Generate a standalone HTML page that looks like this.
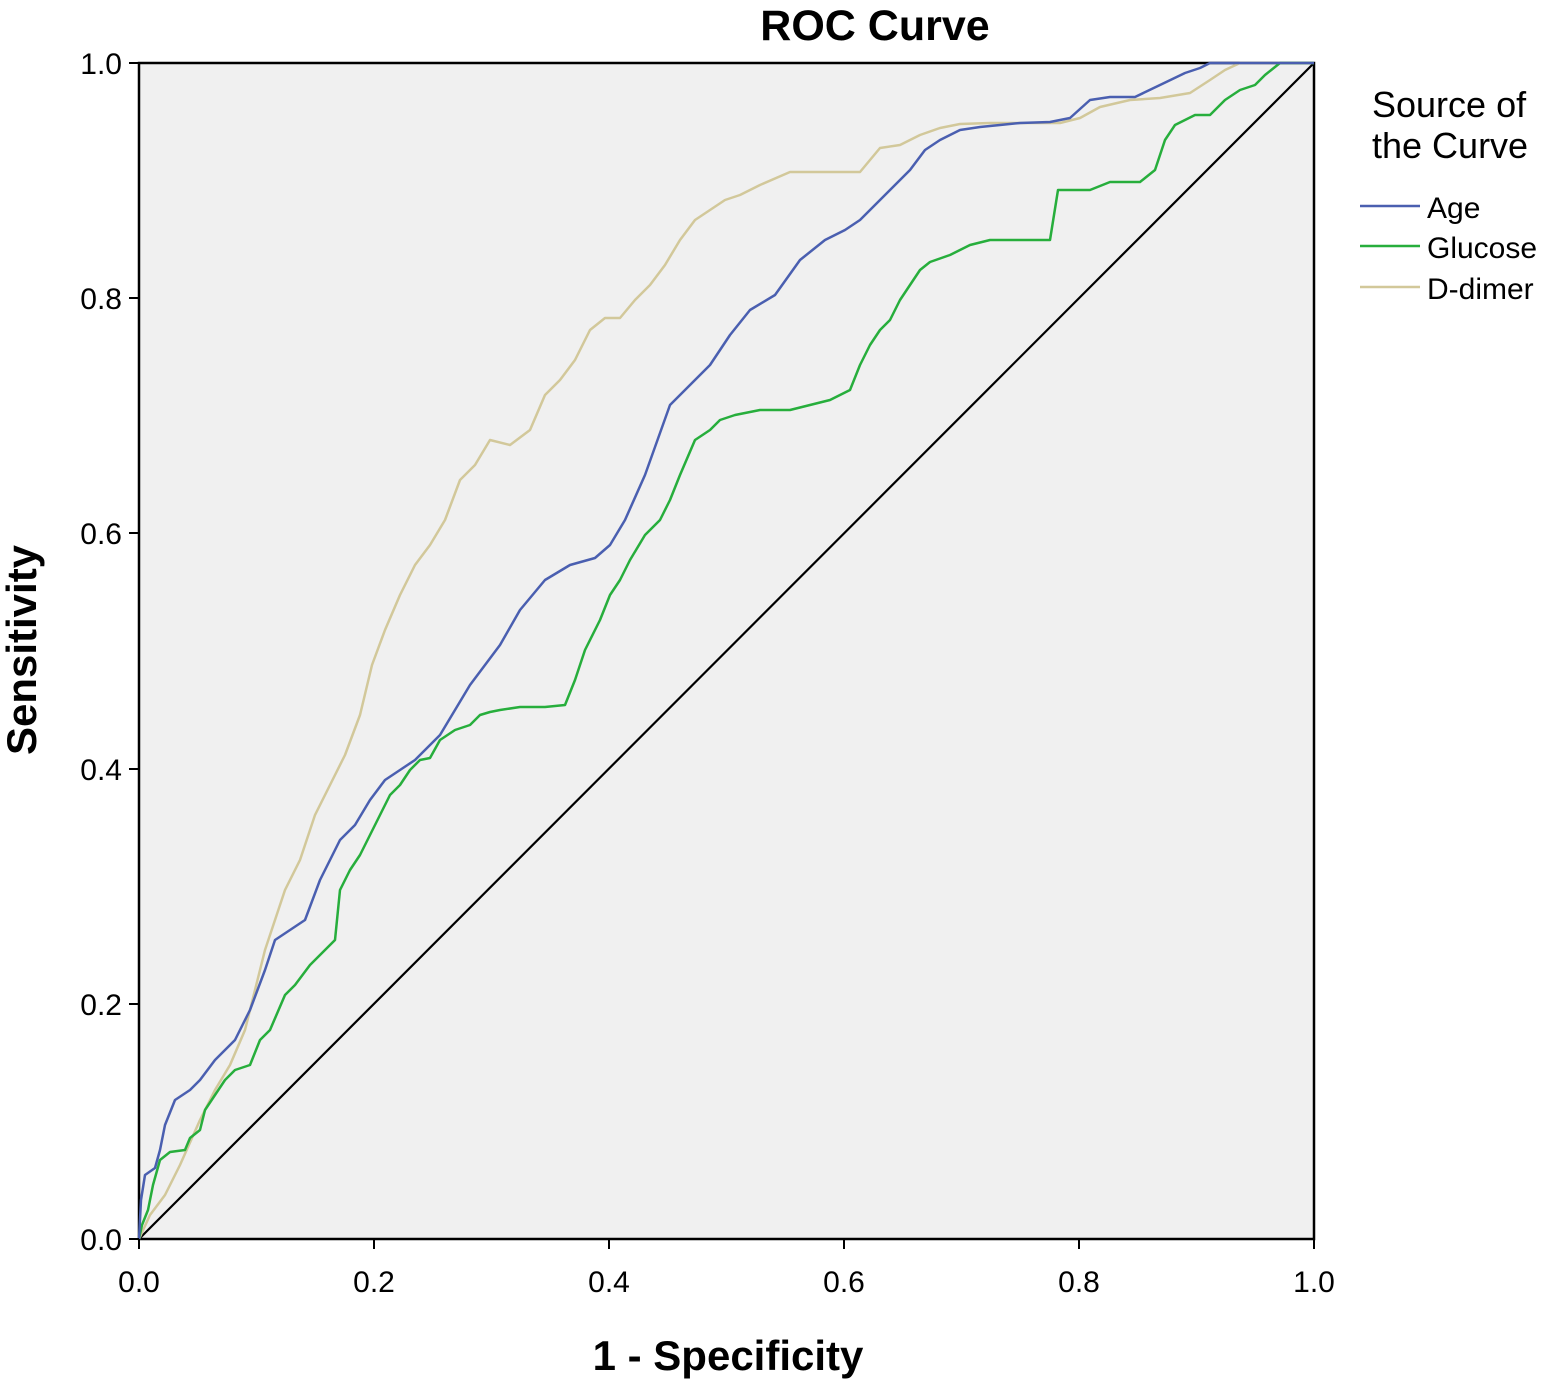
<!DOCTYPE html>
<html><head><style>body{margin:0;background:#fff}svg{display:block;font-family:"Liberation Sans",Arial,sans-serif}</style></head>
<body>
<svg width="1555" height="1386" viewBox="0 0 1555 1386">
<rect x="139" y="63" width="1175" height="1176" fill="#f0f0f0" stroke="#000" stroke-width="2.5"/>
<line x1="139" y1="1239" x2="1314" y2="63" stroke="#000" stroke-width="2.2"/>
<g fill="none" stroke-width="2.5" stroke-linejoin="round">
<polyline stroke="#d2c89a" points="139,1239 150,1215 165,1195 180,1165 200,1120 215,1090 230,1065 245,1030 255,990 265,950 275,920 285,890 300,860 315,815 330,785 345,755 360,715 372,665 385,630 400,595 415,565 430,545 445,520 460,480 475,465 490,440 510,445 530,430 545,395 560,380 575,360 590,330 605,318 620,318 635,300 650,285 665,265 680,240 695,220 710,210 725,200 740,195 760,185 790,172 830,172 860,172 880,148 900,145 920,135 940,128 960,124 990,123 1020,123 1060,123 1080,118 1100,107 1130,100 1160,98 1190,93 1210,80 1225,70 1240,63 1314,63"/>
<polyline stroke="#27ae3c" points="139,1239 142,1225 148,1210 153,1185 160,1160 170,1152 185,1150 190,1138 200,1130 205,1110 215,1095 225,1080 235,1070 250,1065 260,1040 270,1030 285,995 295,985 310,965 325,950 335,940 340,890 350,870 360,855 370,835 380,815 390,795 400,785 410,770 420,760 430,758 440,740 455,730 470,725 480,715 490,712 500,710 520,707 545,707 565,705 575,680 585,650 600,620 610,595 620,580 630,560 645,535 660,520 670,500 680,475 695,440 710,430 720,420 735,415 760,410 790,410 810,405 830,400 850,390 860,365 870,345 880,330 890,320 900,300 910,285 920,270 930,262 950,255 970,245 990,240 1050,240 1058,190 1090,190 1110,182 1140,182 1155,170 1165,140 1175,125 1195,115 1210,115 1225,100 1240,90 1255,85 1265,75 1280,63 1314,63"/>
<polyline stroke="#4a5fb0" points="139,1239 141,1200 145,1175 155,1168 160,1150 165,1125 175,1100 190,1090 200,1080 215,1060 235,1040 250,1010 265,970 275,940 290,930 305,920 320,880 340,840 355,825 370,800 385,780 400,770 415,760 440,735 470,685 500,645 520,610 545,580 570,565 595,558 610,545 625,520 645,475 670,405 690,385 710,365 730,335 750,310 775,295 800,260 825,240 845,230 860,220 875,205 890,190 910,170 925,150 940,140 960,130 980,127 1000,125 1020,123 1050,122 1070,118 1090,100 1110,97 1135,97 1160,85 1185,73 1200,68 1210,63 1314,63"/>
</g>
<g stroke="#000" stroke-width="2">
<line x1="139" y1="1239" x2="139" y2="1249"/><line x1="374" y1="1239" x2="374" y2="1249"/><line x1="609" y1="1239" x2="609" y2="1249"/><line x1="844" y1="1239" x2="844" y2="1249"/><line x1="1079" y1="1239" x2="1079" y2="1249"/><line x1="1314" y1="1239" x2="1314" y2="1249"/>
<line x1="129" y1="1239" x2="139" y2="1239"/><line x1="129" y1="1004" x2="139" y2="1004"/><line x1="129" y1="769" x2="139" y2="769"/><line x1="129" y1="533" x2="139" y2="533"/><line x1="129" y1="298" x2="139" y2="298"/><line x1="129" y1="63" x2="139" y2="63"/>
</g>
<g font-size="30" text-anchor="middle" fill="#000">
<text x="139" y="1292">0.0</text><text x="374" y="1292">0.2</text><text x="609" y="1292">0.4</text><text x="844" y="1292">0.6</text><text x="1079" y="1292">0.8</text><text x="1314" y="1292">1.0</text>
</g>
<g font-size="30" text-anchor="end" fill="#000">
<text x="122" y="1250">0.0</text><text x="122" y="1015">0.2</text><text x="122" y="780">0.4</text><text x="122" y="544">0.6</text><text x="122" y="309">0.8</text><text x="122" y="74">1.0</text>
</g>
<text x="875" y="40" font-size="43" font-weight="bold" text-anchor="middle">ROC Curve</text>
<text x="728" y="1370" font-size="42" font-weight="bold" text-anchor="middle">1 - Specificity</text>
<text transform="translate(36,650) rotate(-90)" font-size="42" font-weight="bold" text-anchor="middle">Sensitivity</text>
<text x="1372" y="117" font-size="36">Source of</text>
<text x="1372" y="158" font-size="36">the Curve</text>
<line x1="1360" y1="206" x2="1420" y2="206" stroke="#4a5fb0" stroke-width="2.5"/>
<line x1="1360" y1="246" x2="1420" y2="246" stroke="#27ae3c" stroke-width="2.5"/>
<line x1="1360" y1="287" x2="1420" y2="287" stroke="#d2c89a" stroke-width="2.5"/>
<text x="1427" y="218" font-size="30">Age</text>
<text x="1427" y="258" font-size="30">Glucose</text>
<text x="1427" y="299" font-size="30">D-dimer</text>
</svg>
</body></html>
